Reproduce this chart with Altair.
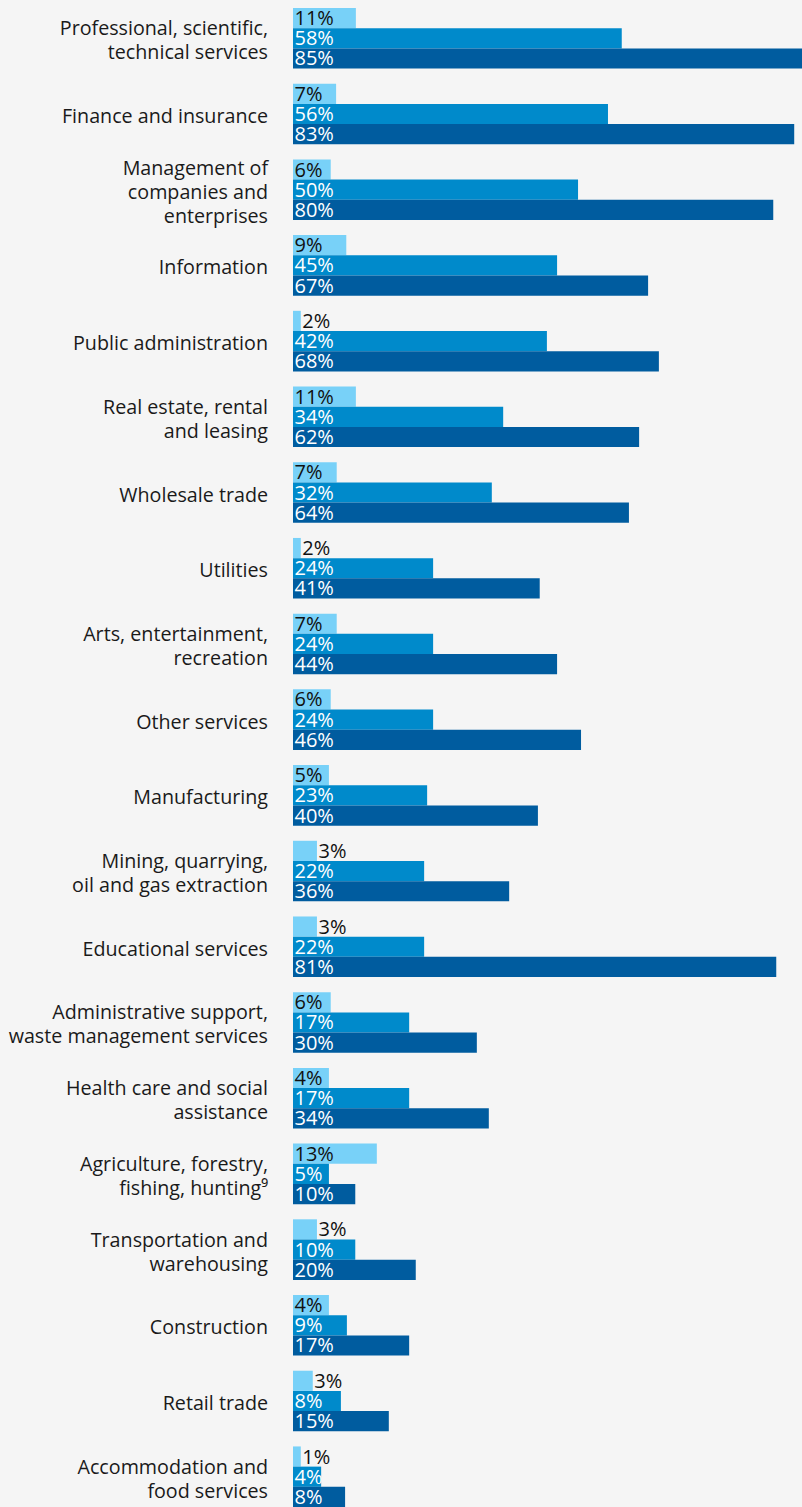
import altair as alt
import pandas as pd

categories = [
    "Professional, scientific,|technical services",
    "Finance and insurance",
    "Management of|companies and|enterprises",
    "Information",
    "Public administration",
    "Real estate, rental|and leasing",
    "Wholesale trade",
    "Utilities",
    "Arts, entertainment,|recreation",
    "Other services",
    "Manufacturing",
    "Mining, quarrying,|oil and gas extraction",
    "Educational services",
    "Administrative support,|waste management services",
    "Health care and social|assistance",
    "Agriculture, forestry,|fishing, hunting\u2079",
    "Transportation and|warehousing",
    "Construction",
    "Retail trade",
    "Accommodation and|food services",
]

series_names = ["Series 1", "Series 2", "Series 3"]

# Printed labels (percent)
label_1 = [11, 7, 6, 9, 2, 11, 7, 2, 7, 6, 5, 3, 3, 6, 4, 13, 3, 4, 3, 1]
label_2 = [58, 56, 50, 45, 42, 34, 32, 24, 24, 24, 23, 22, 22, 17, 17, 5, 10, 9, 8, 4]
label_3 = [85, 83, 80, 67, 68, 62, 64, 41, 44, 46, 40, 36, 81, 30, 34, 10, 20, 17, 15, 8]

# Bar lengths as drawn in the picture (percent, estimated)
bar_1 = [10.5, 7.2, 6.3, 8.9, 1.3, 10.5, 7.3, 1.3, 7.3, 6.3, 6.0, 4.0, 4.0, 6.3, 6.0, 14.0, 4.0, 6.0, 3.3, 1.3]
bar_2 = [54.9, 52.6, 47.6, 44.1, 42.4, 35.1, 33.2, 23.4, 23.4, 23.4, 22.4, 21.9, 21.9, 19.4, 19.4, 6.0, 10.4, 9.0, 8.0, 4.7]
bar_3 = [85.0, 83.7, 80.2, 59.3, 61.1, 57.8, 56.1, 41.2, 44.1, 48.1, 40.9, 36.1, 80.7, 30.7, 32.7, 10.4, 20.5, 19.4, 16.0, 8.7]

colors = ["#78d1f8", "#008acb", "#005c9f"]

rows = []
for i, c in enumerate(categories):
    for s, labs, bars_ in zip(
        series_names, [label_1, label_2, label_3], [bar_1, bar_2, bar_3]
    ):
        rows.append({"category": c, "series": s, "label": labs[i], "bar": bars_[i]})
df = pd.DataFrame(rows)
lab_df = pd.DataFrame({"category": categories})

FONT = "Open Sans"
YSCALE = alt.Scale(paddingInner=0.2, paddingOuter=0)
XSCALE = alt.Scale(domain=[0, 85], nice=False)

base = alt.Chart(df).encode(
    y=alt.Y("category:N", sort=categories, scale=YSCALE, axis=None),
    yOffset=alt.YOffset(
        "series:N", sort=series_names, scale=alt.Scale(paddingInner=0, paddingOuter=0)
    ),
)

bars = base.mark_bar().encode(
    x=alt.X("bar:Q", scale=XSCALE, axis=None),
    color=alt.Color(
        "series:N", scale=alt.Scale(domain=series_names, range=colors), legend=None
    ),
)

texts = (
    base.transform_calculate(
        lx="datum.label <= 3 && datum.series == 'Series 1' ? datum.bar : 0",
        lbl="datum.label + '%'",
    )
    .mark_text(align="left", baseline="middle", dx=1.5, dy=1, fontSize=20, font=FONT)
    .encode(
        x=alt.X("lx:Q", scale=XSCALE, axis=None),
        text="lbl:N",
        color=alt.condition(
            alt.datum.series == "Series 1", alt.value("#111111"), alt.value("#ffffff")
        ),
    )
)


def label_layer(n):
    return (
        alt.Chart(lab_df)
        .transform_calculate(n="length(split(datum.category, '|'))")
        .transform_filter(f"datum.n == {n}")
        .mark_text(
            align="right",
            baseline="middle",
            fontSize=19.7,
            font=FONT,
            color="#1a1a1a",
            lineBreak="|",
            lineHeight=24,
            dy=3 - (n - 1) * 12,
        )
        .encode(
            y=alt.Y("category:N", sort=categories, scale=YSCALE, axis=None),
            x=alt.value(-25),
            text="category:N",
        )
    )


chart = (
    alt.layer(bars, texts, label_layer(1), label_layer(2), label_layer(3))
    .properties(
        width=509,
        height=1499,
        autosize=alt.AutoSizeParams(type="none"),
        padding={"left": 293, "top": 8, "right": 0, "bottom": 0},
        background="#f5f5f5",
    )
    .configure_view(stroke=None)
)

chart.save("out.html", embed_options={"renderer": "svg", "actions": False})
